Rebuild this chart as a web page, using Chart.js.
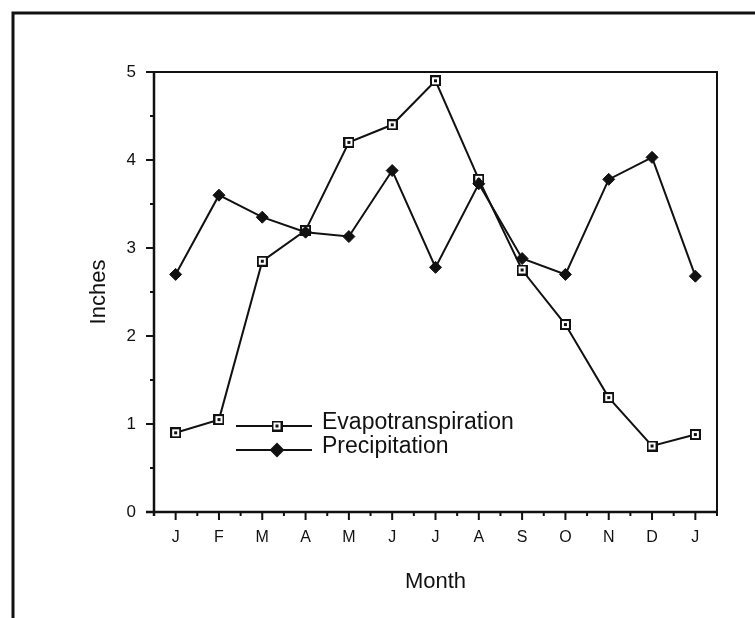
<!DOCTYPE html>
<html lang="en">
<head>
<meta charset="utf-8">
<title>Evapotranspiration and Precipitation</title>
<script src="https://cdn.jsdelivr.net/npm/chart.js@4.4.1/dist/chart.umd.min.js"></script>
<style>
    html, body { margin: 0; padding: 0; background: #fff; }
    #chart { display: block; }
</style>
</head>
<body>
<canvas id="chart" width="755" height="618"></canvas>
<script>
// Chart data
const months = ['J', 'F', 'M', 'A', 'M', 'J', 'J', 'A', 'S', 'O', 'N', 'D', 'J'];
const evapotranspiration = [0.9, 1.05, 2.85, 3.2, 4.2, 4.4, 4.9, 3.78, 2.75, 2.13, 1.3, 0.75, 0.88];
const precipitation = [2.7, 3.6, 3.35, 3.18, 3.13, 3.88, 2.78, 3.73, 2.88, 2.7, 3.78, 4.03, 2.68];
const yTicks = [0, 1, 2, 3, 4, 5];
const seriesNames = ['Evapotranspiration', 'Precipitation'];

const FONT = "'Liberation Sans', Arial, Helvetica, sans-serif";
const INK = '#111';

/**
 * Open square marker with a dot in the middle
 */
function makeSquareMarker() {
    const c = document.createElement('canvas');
    c.width = 11;
    c.height = 11;
    const ctx = c.getContext('2d');
    ctx.fillStyle = '#fff';
    ctx.fillRect(0, 0, 11, 11);
    ctx.strokeStyle = INK;
    ctx.lineWidth = 2;
    ctx.strokeRect(1, 1, 9, 9);
    ctx.fillStyle = INK;
    ctx.fillRect(4, 4, 3, 3);
    return c;
}

/**
 * Figure border, plot box and tick marks
 */
const framePlugin = {
    id: 'frame',
    beforeDatasetsDraw(chart) {
        const { ctx, chartArea: a, scales: { x, y } } = chart;
        ctx.save();
        ctx.strokeStyle = INK;

        // outer border of the figure
        ctx.lineWidth = 3;
        ctx.beginPath();
        ctx.moveTo(13, chart.height);
        ctx.lineTo(13, 13);
        ctx.lineTo(chart.width, 13);
        ctx.stroke();

        // top and right of the plot box
        ctx.lineWidth = 2;
        ctx.beginPath();
        ctx.moveTo(a.left, a.top);
        ctx.lineTo(a.right, a.top);
        ctx.lineTo(a.right, a.bottom + 4);
        ctx.stroke();

        // axes
        ctx.lineWidth = 2.5;
        ctx.beginPath();
        ctx.moveTo(a.left, a.top);
        ctx.lineTo(a.left, a.bottom + 4);
        ctx.moveTo(a.left - 8, a.bottom);
        ctx.lineTo(a.right, a.bottom);
        ctx.stroke();

        // y ticks: long on whole inches, short on halves
        ctx.lineWidth = 2;
        ctx.beginPath();
        yTicks.forEach((v, i) => {
            const py = y.getPixelForValue(v);
            ctx.moveTo(a.left - 8, py);
            ctx.lineTo(a.left, py);
            if (i < yTicks.length - 1) {
                const pm = y.getPixelForValue(v + 0.5);
                ctx.moveTo(a.left - 4, pm);
                ctx.lineTo(a.left, pm);
            }
        });

        // x ticks: long under each month, short between months
        months.forEach((m, i) => {
            const px = x.getPixelForValue(i);
            ctx.moveTo(px, a.bottom);
            ctx.lineTo(px, a.bottom + 8);
            if (i < months.length - 1) {
                const pm = (px + x.getPixelForValue(i + 1)) / 2;
                ctx.moveTo(pm, a.bottom);
                ctx.lineTo(pm, a.bottom + 4);
            }
        });
        ctx.stroke();
        ctx.restore();
    }
};

/**
 * Legend drawn inside the plot, lower left
 */
const insideLegendPlugin = {
    id: 'insideLegend',
    afterDatasetsDraw(chart) {
        const { ctx } = chart;
        ctx.save();
        chart.data.datasets.forEach((ds, i) => {
            const ly = 426 + i * 24;
            ctx.strokeStyle = INK;
            ctx.lineWidth = 2;
            ctx.beginPath();
            ctx.moveTo(236, ly);
            ctx.lineTo(312, ly);
            ctx.stroke();
            Chart.helpers.drawPoint(ctx, {
                pointStyle: ds.pointStyle,
                radius: ds.pointRadius,
                borderWidth: 1
            }, 277, ly);
            ctx.fillStyle = INK;
            ctx.font = '23px ' + FONT;
            ctx.textAlign = 'left';
            ctx.textBaseline = 'alphabetic';
            ctx.fillText(ds.label, 322, ly + 3);
        });
        ctx.restore();
    }
};

document.addEventListener('DOMContentLoaded', () => {
    const canvas = document.getElementById('chart');
    const squareMarker = makeSquareMarker();

    new Chart(canvas.getContext('2d'), {
        type: 'line',
        data: {
            labels: months,
            datasets: [{
                label: seriesNames[0],
                data: evapotranspiration,
                borderColor: INK,
                borderWidth: 2,
                pointStyle: squareMarker,
                pointRadius: 6,
                tension: 0,
                order: 2
            }, {
                label: seriesNames[1],
                data: precipitation,
                borderColor: INK,
                backgroundColor: INK,
                borderWidth: 2,
                pointStyle: 'rectRot',
                pointRadius: 6,
                pointBackgroundColor: INK,
                pointBorderColor: INK,
                pointBorderWidth: 1,
                tension: 0,
                order: 1
            }]
        },
        options: {
            responsive: false,
            animation: false,
            devicePixelRatio: 1,
            clip: false,
            layout: { padding: { left: 0, top: 72, right: 38, bottom: 0 } },
            plugins: {
                legend: { display: false },
                tooltip: { enabled: false }
            },
            scales: {
                x: {
                    type: 'category',
                    offset: true,
                    grid: { display: false, drawTicks: false },
                    border: { display: false },
                    ticks: {
                        color: INK,
                        font: { family: FONT, size: 16 },
                        padding: 16,
                        maxRotation: 0,
                        autoSkip: false
                    },
                    title: {
                        display: true,
                        text: 'Month',
                        color: INK,
                        font: { family: FONT, size: 22, lineHeight: 1 },
                        padding: { top: 0, bottom: 25 }
                    },
                    afterFit: s => { s.height = 106; }
                },
                y: {
                    min: 0,
                    max: 5,
                    grid: { display: false, drawTicks: false },
                    border: { display: false },
                    afterBuildTicks: s => { s.ticks = yTicks.map(v => ({ value: v })); },
                    ticks: {
                        color: INK,
                        font: { family: FONT, size: 17 },
                        padding: 18
                    },
                    title: {
                        display: true,
                        text: 'Inches',
                        color: INK,
                        font: { family: FONT, size: 22, lineHeight: 1 },
                        padding: { top: 88, bottom: 0 }
                    },
                    afterFit: s => { s.width = 154; }
                }
            }
        },
        plugins: [framePlugin, insideLegendPlugin]
    });
});
</script>
</body>
</html>
